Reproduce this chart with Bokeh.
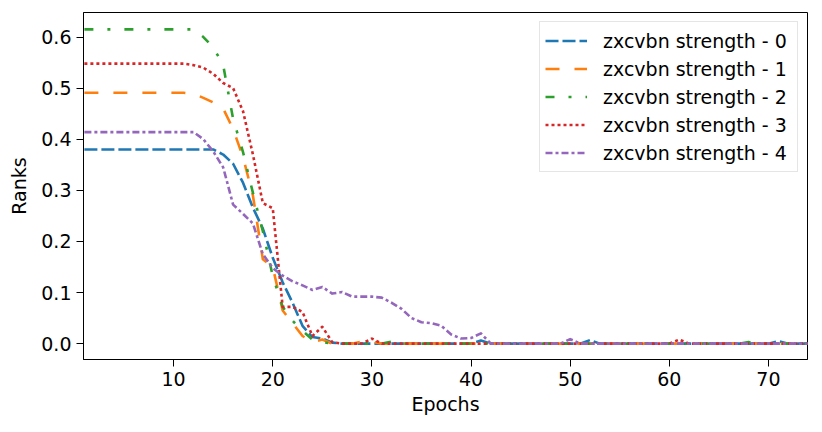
from bokeh.plotting import figure
from bokeh.models import Range1d, FixedTicker, PrintfTickFormatter, Legend, LegendItem
from bokeh.embed import file_html
from bokeh.resources import INLINE

epochs = list(range(1, 75))

def pad(head, n=74):
    return head + [0.0] * (n - len(head))

s0 = [0.380] * 14 + [0.37, 0.352, 0.315, 0.266, 0.225, 0.168, 0.12, 0.08, 0.035, 0.013, 0.01, 0.002]
s0 = pad(s0)
s0[40] = 0.006; s0[51] = 0.007; s0[70] = 0.005

s1 = [0.491] * 11 + [0.489, 0.481, 0.472, 0.46, 0.42, 0.365, 0.29, 0.165, 0.15, 0.065, 0.04, 0.015, 0.003, 0.008]
s1 = pad(s1)
s1[28] = 0.004; s1[29] = 0.004

s2 = [0.615] * 12 + [0.60, 0.58, 0.545, 0.44, 0.375, 0.295, 0.22, 0.132, 0.072, 0.045, 0.025, 0.008, 0.003]
s2 = pad(s2)
s2[31] = 0.004; s2[67] = 0.003

s3 = [0.548] * 11 + [0.545, 0.54, 0.528, 0.51, 0.50, 0.455, 0.37, 0.275, 0.265, 0.072, 0.072, 0.062, 0.015, 0.033, 0.003]
s3 = pad(s3)
s3[29] = 0.01; s3[60] = 0.008

s4 = [0.414] * 12 + [0.40, 0.376, 0.345, 0.272, 0.254, 0.235, 0.175, 0.148, 0.133, 0.122, 0.114,
                     0.105, 0.111, 0.098, 0.101, 0.092, 0.092, 0.092, 0.09, 0.08, 0.068, 0.05, 0.042,
                     0.04, 0.035, 0.018, 0.01, 0.011, 0.02]
s4 = pad(s4)
s4[49] = 0.009

series = [s0, s1, s2, s3, s4]
labels = ["zxcvbn strength - %d" % i for i in range(5)]
colors = ["#1f77b4", "#ff7f0e", "#2ca02c", "#d62728", "#9467bd"]
dashes = ["13 4", "14 15", "9 14 3 14", "3 3", "7 3 3 3"]
x_ticks = [10, 20, 30, 40, 50, 60, 70]
y_ticks = [0.0, 0.1, 0.2, 0.3, 0.4, 0.5, 0.6]

FONT = "DejaVu Sans"

p = figure(width=815, height=425, output_backend="svg", toolbar_location=None,
           x_range=Range1d(0.91, 73.94), y_range=Range1d(-0.031, 0.648),
           min_border_left=83, min_border_right=8, min_border_top=12, min_border_bottom=66)
p.grid.visible = False
p.background_fill_color = "white"
p.border_fill_color = "white"
p.outline_line_color = "black"
p.outline_line_alpha = 1.0
p.outline_line_width = 1

items = []
for s, lab, c, d in zip(series, labels, colors, dashes):
    r = p.line(epochs, s, line_color=c, line_width=2.6, line_dash=d, line_join="round", line_cap="butt")
    items.append(LegendItem(label=lab, renderers=[r]))

legend = Legend(items=items, location="top_right")
legend.label_text_font = FONT
legend.label_text_font_size = "19px"
legend.label_text_color = "black"
legend.glyph_width = 42
legend.glyph_height = 27
legend.label_height = 27
legend.label_width = 189
legend.spacing = 1
legend.padding = 5
legend.margin = 9
legend.label_standoff = 16
legend.border_line_color = "#cccccc"
legend.border_line_width = 1
legend.background_fill_alpha = 0.8
p.add_layout(legend)

p.xaxis.ticker = FixedTicker(ticks=x_ticks)
p.yaxis.ticker = FixedTicker(ticks=y_ticks)
p.yaxis.formatter = PrintfTickFormatter(format="%.1f")
p.xaxis.axis_label = "Epochs"
p.yaxis.axis_label = "Ranks"
for ax in (p.xaxis, p.yaxis):
    ax.axis_line_color = "black"
    ax.major_tick_line_color = "black"
    ax.major_tick_out = 7
    ax.major_tick_in = 0
    ax.minor_tick_line_color = None
    ax.major_label_text_font = FONT
    ax.major_label_text_font_size = "19px"
    ax.major_label_text_color = "black"
    ax.axis_label_text_font = FONT
    ax.axis_label_text_font_size = "19px"
    ax.axis_label_text_font_style = "normal"
    ax.axis_label_text_color = "black"
    ax.major_label_standoff = 5
p.xaxis.axis_label_standoff = 4
p.yaxis.axis_label_standoff = 8

open("out.html", "w").write(file_html(p, INLINE))
